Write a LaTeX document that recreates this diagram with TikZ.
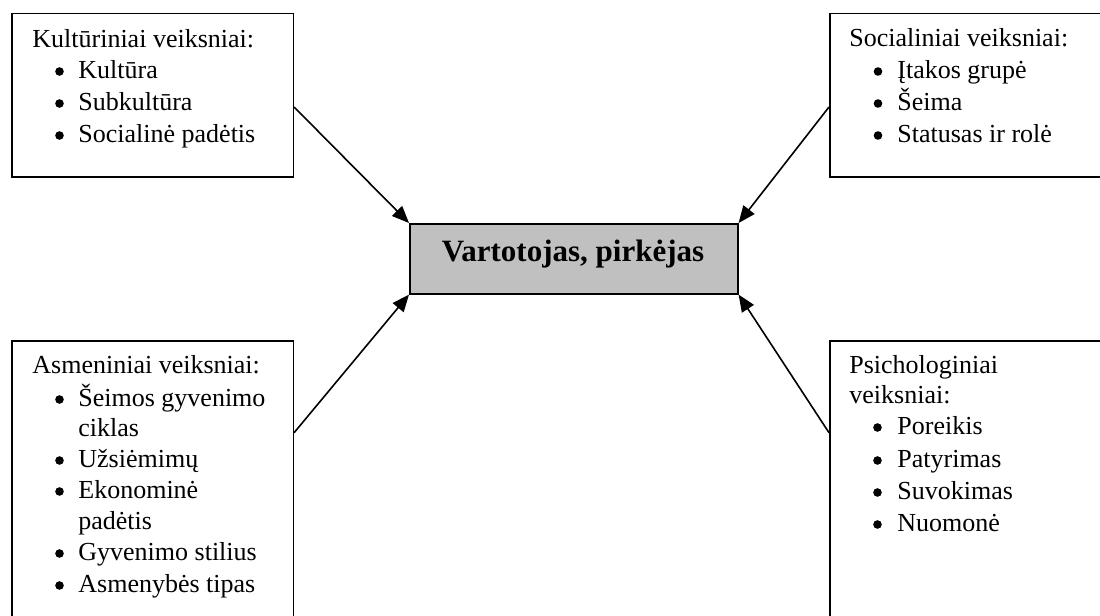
\documentclass[tikz,border=0pt]{standalone}
\usepackage{fontspec}
\setmainfont{Liberation Serif}
\usetikzlibrary{arrows.meta,calc}
\begin{document}
\begin{tikzpicture}[x=0.5pt,y=-0.5pt,
  frame/.style={draw, line width=0.8pt, inner sep=0pt, anchor=north west},
  txt/.style={inner sep=0pt, anchor=base west, font=\fontsize{13}{16}\selectfont},
  dot/.style={circle, fill=black, inner sep=0pt, minimum size=4.3pt},
  conn/.style={line width=0.8pt, -{Triangle[length=8.5pt,width=7pt]}},
]
\useasboundingbox (0,0) rectangle (1100,616);
\begin{scope}
\clip (0,0) rectangle (1100,616);

% factor boxes (the right and lower ones run off the page)
\node[frame, minimum width=140.75pt, minimum height=81.75pt] (kult) at (11,12.5) {};
\node[frame, minimum width=143pt, minimum height=81.75pt] (soc) at (829,12.5) {};
\node[frame, minimum width=140.75pt, minimum height=145pt] (asm) at (11,340) {};
\node[frame, minimum width=143pt, minimum height=145pt] (psi) at (829,340) {};

% consumer box
\node[frame, fill={rgb,255:red,192;green,192;blue,192}, minimum width=164pt, minimum height=35pt] (cons) at (409,223) {};
\node[inner sep=0pt, anchor=base, font=\fontsize{15.5}{18}\selectfont\bfseries] (consl) at (573,261.5) {Vartotojas, pirkėjas};

% cultural factors
\node[txt] (kh) at (32,47) {Kultūriniai veiksniai:};
\foreach \i/\y/\t in {1/78/Kultūra, 2/110/Subkultūra, 3/142/Socialinė padėtis} {
  \node[dot] (kb\i) at (59.5,\y-6.5) {};
  \node[txt] (k\i) at (78,\y) {\t};
}

% social factors
\node[txt] (sh) at (849,46) {Socialiniai veiksniai:};
\foreach \i/\y/\t in {1/78/Įtakos grupė, 2/110/Šeima, 3/142/Statusas ir rolė} {
  \node[dot] (sb\i) at (878,\y-6.5) {};
  \node[txt] (s\i) at (897,\y) {\t};
}

% personal factors
\node[txt] (ah) at (32,373) {Asmeniniai veiksniai:};
\foreach \i/\y/\t in {1/406/Šeimos gyvenimo, 2/467/Užsiėmimų, 3/498/Ekonominė, 4/560/Gyvenimo stilius, 5/592/Asmenybės tipas} {
  \node[dot] (ab\i) at (59.5,\y-6.5) {};
  \node[txt] (a\i) at (78,\y) {\t};
}
\node[txt] (a1c) at (78,436) {ciklas};
\node[txt] (a3c) at (78,529) {padėtis};

% psychological factors
\node[txt] (ph) at (849,373) {Psichologiniai};
\node[txt] (ph2) at (849,403) {veiksniai:};
\foreach \i/\y/\t in {1/434/Poreikis, 2/467/Patyrimas, 3/499/Suvokimas, 4/531/Nuomonė} {
  \node[dot] (pb\i) at (877.5,\y-6.5) {};
  \node[txt] (p\i) at (897,\y) {\t};
}

% influences on the consumer
\draw[conn] ($(kult.north east)+(0,94.5)$) -- (cons.north west);
\draw[conn] ($(soc.north west)+(0,94.5)$) -- (cons.north east);
\draw[conn] ($(asm.north east)+(0,92.7)$) -- (cons.south west);
\draw[conn] ($(psi.north west)+(0,92.7)$) -- (cons.south east);
\end{scope}
\end{tikzpicture}
\end{document}
